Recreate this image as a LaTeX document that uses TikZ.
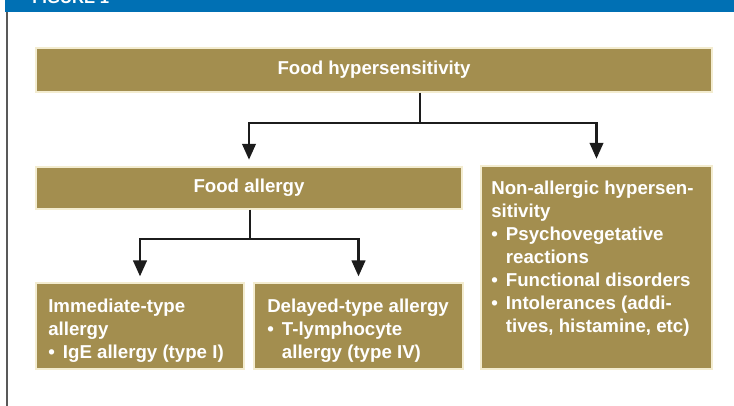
\documentclass[tikz,border=0pt]{standalone}
\usepackage{fontspec}
\setmainfont{Liberation Sans}
\usetikzlibrary{arrows.meta}

\definecolor{figblue}{RGB}{0,112,180}
\definecolor{boxgold}{RGB}{163,142,79}
\definecolor{halo}{RGB}{243,236,208}
\definecolor{linkgray}{RGB}{28,28,28}

\newcommand{\bul}{\makebox[11pt][l]{\textbullet}}
\newcommand{\ind}{\hspace*{11pt}}

\begin{document}
\begin{tikzpicture}[
    x=0.75pt, y=-0.75pt,
    box/.style={rectangle, draw=halo, line width=0.8pt, fill=boxgold, text=white, font=\fontsize{14}{17.25}\selectfont\bfseries, inner sep=0pt},
    boxtext/.style={text=white, font=\fontsize{14}{17.25}\selectfont\bfseries, inner sep=0pt, align=left, anchor=north west},
    link/.style={draw=linkgray, line width=2.2pt},
    arrowlink/.style={link, -{Triangle[length=12pt, width=10pt]}}
]

\useasboundingbox (0,0) rectangle (734,406);
\clip (0,0) rectangle (734,406);

% Figure header
\fill[figblue] (5,0) rectangle (734,12.5);
\node[anchor=base west, text=white, font=\fontsize{12.5}{15}\selectfont\bfseries, inner sep=0pt] (figlabel) at (32,3.5) {FIGURE 1};
\draw[gray!70!black, line width=1.2pt] (7,12.5) -- (7,406);

% Food hypersensitivity
\node[box, minimum width=507pt, minimum height=33pt] (hyper) at (374,70) {Food hypersensitivity};

% Food allergy
\node[box, minimum width=319.5pt, minimum height=31.5pt] (allergy) at (249,188) {Food allergy};

% Non-allergic hypersensitivity
\node[box, minimum width=173.25pt, minimum height=152.25pt] (nonallergic) at (596.5,267.5) {};
\node[boxtext] (nonallergic-txt) at (491,181) {Non-allergic hypersen-\\sitivity\\\bul Psychovegetative\\\ind reactions\\\bul Functional disorders\\\bul Intolerances (addi-\\\ind tives, histamine, etc)};

% Immediate-type allergy
\node[box, minimum width=156pt, minimum height=64.5pt] (immediate) at (140,326) {};
\node[boxtext] (immediate-txt) at (48,298.5) {Immediate-type\\allergy\\\bul IgE allergy (type I)};

% Delayed-type allergy
\node[box, minimum width=156.75pt, minimum height=64.5pt] (delayed) at (358.5,326) {};
\node[boxtext] (delayed-txt) at (267,298.5) {Delayed-type allergy\\\bul T-lymphocyte\\\ind allergy (type IV)};

% Connectors
\coordinate (fork1) at (420,123);
\coordinate (fork2) at (250,239);
\draw[link] (hyper.south -| fork1) -- (fork1);
\draw[arrowlink, shorten >=5pt] (fork1) -| (allergy.north);
\draw[arrowlink, shorten >=5pt] (fork1) -| (nonallergic.north);
\draw[link] (allergy.south -| fork2) -- (fork2);
\draw[arrowlink, shorten >=4.5pt] (fork2) -| (immediate.north);
\draw[arrowlink, shorten >=4.5pt] (fork2) -| (delayed.north);

\end{tikzpicture}
\end{document}
